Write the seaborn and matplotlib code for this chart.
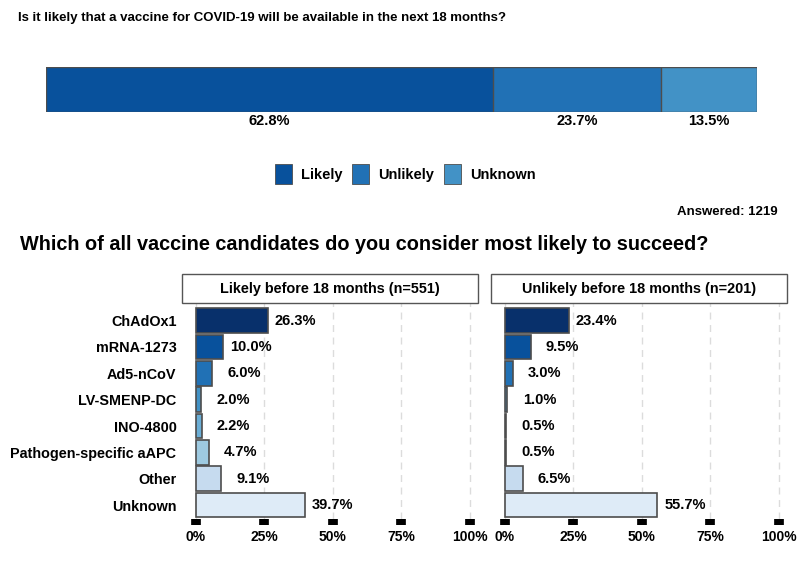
import numpy as np
import pandas as pd
import matplotlib
matplotlib.use("Agg")
import matplotlib.pyplot as plt
from matplotlib.patches import Patch, Rectangle
import matplotlib.transforms as mtransforms
import seaborn as sns

sns.set_style("white")
plt.rcParams["font.family"] = ["Liberation Sans", "DejaVu Sans"]
plt.rcParams["font.weight"] = "bold"
plt.rcParams["text.color"] = "black"
plt.rcParams["xtick.labelcolor"] = "black"
plt.rcParams["ytick.labelcolor"] = "black"

# ---- data ----
answers = ["Likely", "Unlikely", "Unknown"]
answer_pct = [62.8, 23.7, 13.5]
answer_colors = ["#08519c", "#2171b5", "#4292c6"]
n_answered = 1219

candidates = ["ChAdOx1", "mRNA-1273", "Ad5-nCoV", "LV-SMENP-DC", "INO-4800",
              "Pathogen-specific aAPC", "Other", "Unknown"]
likely_pct = [26.3, 10.0, 6.0, 2.0, 2.2, 4.7, 9.1, 39.7]
unlikely_pct = [23.4, 9.5, 3.0, 1.0, 0.5, 0.5, 6.5, 55.7]
panel_titles = ["Likely before 18 months (n=551)", "Unlikely before 18 months (n=201)"]
cand_colors = ["#08306b", "#08519c", "#2171b5", "#4292c6", "#6baed6",
               "#9ecae1", "#c6dbef", "#deebf7"]

W, H = 800, 577
EDGE = "#4d4d4d"


def rect(x, y, w, h):
    return [x / W, 1 - (y + h) / H, w / W, h / H]


fig = plt.figure(figsize=(W / 100, H / 100), dpi=100)

fig.text(18 / W, 1 - 18 / H,
         "Is it likely that a vaccine for COVID-19 will be available in the next 18 months?",
         fontsize=9.5, fontweight="bold", va="center", ha="left")

# ---- top stacked bar ----
ax0 = fig.add_axes(rect(46, 67, 711, 45))
cum = np.cumsum(answer_pct)
for i in reversed(range(len(answers))):
    sns.barplot(x=[cum[i]], y=["q"], orient="h", color=answer_colors[i],
                edgecolor=EDGE, linewidth=1.0, width=1.0, ax=ax0, saturation=1)
ax0.set_xlim(0, 100)
ax0.set_ylim(0.5, -0.5)
ax0.axis("off")
trans = mtransforms.blended_transform_factory(ax0.transData, ax0.transAxes)
starts = cum - np.array(answer_pct)
for s, p in zip(starts, answer_pct):
    ax0.text(s + p / 2, -0.2, f"{p:.1f}%", transform=trans, ha="center",
             va="center", fontsize=10.5, fontweight="bold")

handles = [Patch(facecolor=c, edgecolor=EDGE, linewidth=0.6) for c in answer_colors]
fig.legend(handles, answers, loc="center", bbox_to_anchor=(405 / W, 1 - 174 / H),
           ncol=3, frameon=False, fontsize=10.5, handlelength=1.16, handleheight=1.64,
           handletextpad=0.62, columnspacing=0.68)

fig.text(778 / W, 1 - 212 / H, f"Answered: {n_answered}", fontsize=9.5,
         fontweight="bold", ha="right", va="center")

fig.text(20 / W, 1 - 245 / H,
         "Which of all vaccine candidates do you consider most likely to succeed?",
         fontsize=14.3, fontweight="bold", va="center", ha="left")

# ---- bottom panels ----
df = pd.DataFrame({
    "candidate": candidates * 2,
    "pct": likely_pct + unlikely_pct,
    "group": [panel_titles[0]] * len(candidates) + [panel_titles[1]] * len(candidates),
})

panel_x = [182, 491]
for k, title in enumerate(panel_titles):
    ax = fig.add_axes(rect(panel_x[k], 303, 296, 216))
    sub = df[df["group"] == title]
    ax.set_axisbelow(True)
    ax.xaxis.grid(True, linestyle=(0, (5, 4)), color="#dcdcdc", linewidth=1)
    sns.barplot(data=sub, x="pct", y="candidate", hue="candidate", order=candidates,
                hue_order=candidates, palette=cand_colors, legend=False, orient="h",
                width=0.93, edgecolor=EDGE, linewidth=1.2, saturation=1, ax=ax)
    for i, v in enumerate(sub["pct"]):
        ax.annotate(f"{v:.1f}%", xy=(v, i), xytext=(35, 0), textcoords="offset points",
                    ha="right", va="center", fontsize=10.5, fontweight="bold")
    ax.set_xlim(-5, 103)
    ax.set_ylim(7.53, -0.67)
    ax.set_xticks([0, 25, 50, 75, 100])
    ax.set_xticklabels(["0%", "25%", "50%", "75%", "100%"])
    ax.set_xlabel("")
    ax.set_ylabel("")
    for sp in ax.spines.values():
        sp.set_visible(False)
    ax.tick_params(axis="x", length=4, width=7, color="black", pad=4,
                   labelsize=10, direction="out", bottom=True)
    ax.tick_params(axis="y", length=0, pad=4, labelsize=10.4)
    if k == 1:
        ax.set_yticklabels([])
    ax.add_patch(Rectangle((0, 1.0), 1, 29 / 216, transform=ax.transAxes,
                           clip_on=False, facecolor="white", edgecolor="#555555",
                           linewidth=1))
    ax.text(0.5, 1 + 14.5 / 216, title, transform=ax.transAxes, ha="center",
            va="center", fontsize=10.4, fontweight="bold")

fig.savefig("out.png", dpi=100)
